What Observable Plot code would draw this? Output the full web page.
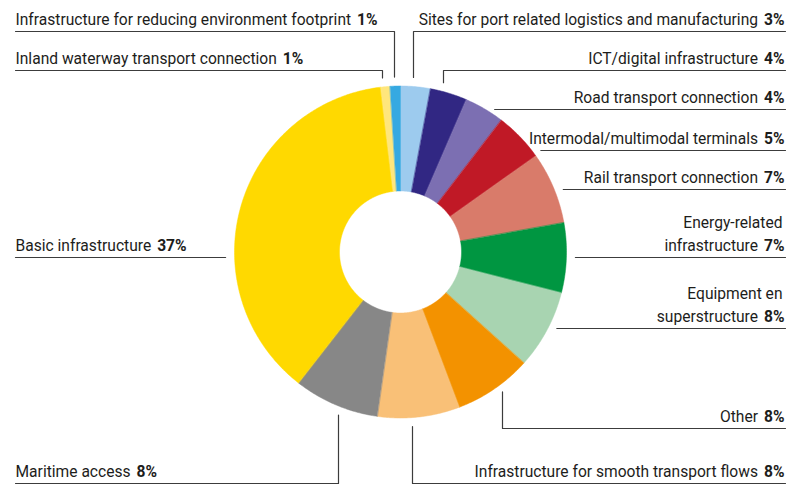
<!DOCTYPE html>
<html><head><meta charset="utf-8">
<script src="https://cdn.jsdelivr.net/npm/d3@7"></script>
<script src="https://cdn.jsdelivr.net/npm/@observablehq/plot@0.6"></script>
<style>body{margin:0;background:#fff}</style>
</head><body><div id="chart"></div>
<script>
// ---- data (clockwise from 12 o'clock) ----
const categories = [
  "Sites for port related logistics and manufacturing",
  "ICT/digital infrastructure",
  "Road transport connection",
  "Intermodal/multimodal terminals",
  "Rail transport connection",
  "Energy-related infrastructure",
  "Equipment en superstructure",
  "Other",
  "Infrastructure for smooth transport flows",
  "Maritime access",
  "Basic infrastructure",
  "Inland waterway transport connection",
  "Infrastructure for reducing environment footprint"
];
const values = [2.9, 3.6, 3.9, 4.8, 7.0, 6.8, 7.7, 7.6, 8.0, 8.3, 37.6, 0.9, 1.0];
const pctLabels = ["3%", "4%", "4%", "5%", "7%", "7%", "8%", "8%", "8%", "8%", "37%", "1%", "1%"];
const colors = ["#9dcbee", "#312783", "#7c6fb2", "#c01926", "#d97b6a", "#009641", "#a8d4b1",
                "#f39200", "#f9c077", "#878787", "#ffd900", "#ffe67c", "#36a9e1"];

// ---- label layout ----
const labelNames = [
  "Sites for port related logistics and manufacturing",
  "ICT/digital infrastructure",
  "Road transport connection",
  "Intermodal/multimodal terminals",
  "Rail transport connection",
  "Energy-related\ninfrastructure",
  "Equipment en\nsuperstructure",
  "Other",
  "Infrastructure for smooth transport flows",
  "Maritime access",
  "Basic infrastructure",
  "Inland waterway transport connection",
  "Infrastructure for reducing environment footprint"
];
const labelSide = ["right","right","right","right","right","right","right","right","right","left","left","left","left"];
const labelRowY = [31, 70, 109, 150, 189, 257, 328, 428, 483, 483, 257, 70, 31];
const elbowX = [413, 443, null, null, null, null, null, 502, 412, 338, null, 382, 394];

const W = 790, H = 485;
const CX = 400, CY = 251.5, R = 166, R0 = 61, GAP = 9;
const LEFT = 15, RIGHT = 784, TEXTGAP = 6, LINE = 23, BASE_OFF = 7;
const FONT = "Roboto", FS = 15.6;

// ---- slices ----
const arcs = d3.pie().sort(null).value(d => d)(values);
const slicePts = [];
arcs.forEach((a, i) => {
  const n = Math.max(4, Math.ceil((a.endAngle - a.startAngle) / 0.01));
  for (let k = 0; k <= n; k++) {
    const t = a.startAngle + (a.endAngle - a.startAngle) * k / n;
    slicePts.push({name: categories[i], x: CX + R * Math.sin(t), y: CY - R * Math.cos(t)});
  }
  for (let k = n; k >= 0; k--) {
    const t = a.startAngle + (a.endAngle - a.startAngle) * k / n;
    slicePts.push({name: categories[i], x: CX + R0 * Math.sin(t), y: CY - R0 * Math.cos(t)});
  }
});

// ---- connectors ----
const connPts = [];
categories.forEach((c, i) => {
  const y = labelRowY[i], right = labelSide[i] === "right";
  const far = right ? RIGHT + 1 : LEFT;
  if (elbowX[i] != null) {
    const ex = elbowX[i];
    const h = Math.sqrt(Math.max(0, R * R - (ex - CX) ** 2)) + GAP;
    const yEnd = y < CY ? CY - h : CY + h;
    connPts.push({id: i, x: ex, y: yEnd}, {id: i, x: ex, y}, {id: i, x: far, y});
  } else {
    const w = Math.sqrt(Math.max(0, R * R - (y - CY) ** 2)) + GAP;
    const xEnd = right ? CX + w : CX - w;
    connPts.push({id: i, x: xEnd, y}, {id: i, x: far, y});
  }
});

// ---- text rows ----
const ctx = document.createElement("canvas").getContext("2d");
function tw(s, bold) { ctx.font = `${bold ? "bold " : ""}${FS}px ${FONT}`; return ctx.measureText(s).width; }
const textRows = [];
categories.forEach((c, i) => {
  const lines = labelNames[i].split("\n");
  const base = labelRowY[i] - BASE_OFF;
  const n = lines.length;
  lines.forEach((ln, j) => {
    const y = base - (n - 1 - j) * LINE;
    const last = j === n - 1;
    if (labelSide[i] === "right") {
      const pw = tw(pctLabels[i], true);
      textRows.push({x: last ? RIGHT - pw - TEXTGAP : RIGHT - 2, y, text: ln, anchor: "end", bold: false});
      if (last) textRows.push({x: RIGHT, y, text: pctLabels[i], anchor: "end", bold: true});
    } else {
      textRows.push({x: LEFT, y, text: ln, anchor: "start", bold: false});
      if (last) textRows.push({x: LEFT + tw(ln, false) + TEXTGAP, y, text: pctLabels[i], anchor: "start", bold: true});
    }
  });
});

const textOpts = {x: "x", y: "y", text: "text", lineAnchor: "bottom", fontSize: FS, fill: "#1d1d1b"};
const chart = Plot.plot({
  width: W, height: H, margin: 0,
  x: {domain: [0, W], axis: null},
  y: {domain: [0, H], range: [0, H], axis: null},
  color: {domain: categories, range: colors},
  style: {fontFamily: FONT, background: "white"},
  marks: [
    Plot.line(slicePts, {x: "x", y: "y", z: "name", fill: "name", stroke: "name", strokeWidth: 0.5, curve: "linear-closed"}),
    Plot.line(connPts, {x: "x", y: "y", z: "id", stroke: "#3c3c3c", strokeWidth: 1.2}),
    Plot.text(textRows.filter(d => !d.bold && d.anchor === "end"), {...textOpts, textAnchor: "end"}),
    Plot.text(textRows.filter(d => d.bold && d.anchor === "end"), {...textOpts, textAnchor: "end", fontWeight: "bold"}),
    Plot.text(textRows.filter(d => !d.bold && d.anchor === "start"), {...textOpts, textAnchor: "start"}),
    Plot.text(textRows.filter(d => d.bold && d.anchor === "start"), {...textOpts, textAnchor: "start", fontWeight: "bold"})
  ]
});
document.getElementById("chart").appendChild(chart);
</script>
</body></html>
